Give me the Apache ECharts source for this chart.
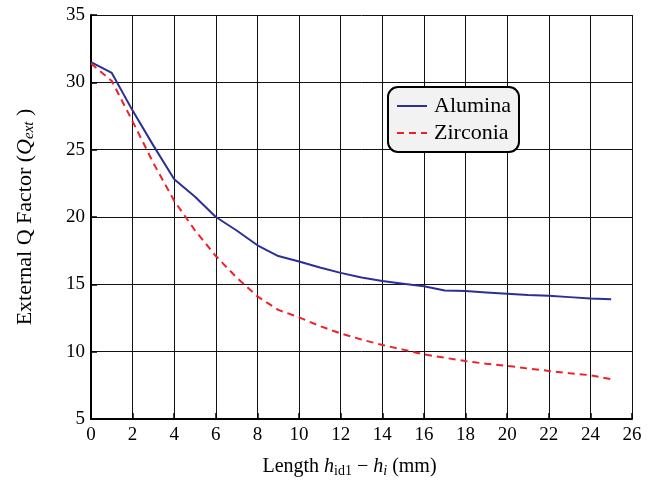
<!DOCTYPE html>
<html>
<head>
<meta charset="utf-8">
<script src="https://cdn.jsdelivr.net/npm/echarts@6/dist/echarts.min.js"></script>
<style>
  html, body { margin: 0; padding: 0; background: #fff; }
  #chart { width: 657px; height: 483px; }
</style>
</head>
<body>
<div id="chart"></div>
<script>
// lengths h_id1 - h_i (mm)
const lengths = [0, 1, 2, 3, 4, 5, 6, 7, 8, 9, 10, 11, 12, 13, 14, 15, 16, 17, 18, 19, 20, 21, 22, 23, 24, 25];
// external Q factor
const alumina = [31.5, 30.7, 27.9, 25.3, 22.8, 21.5, 20.0, 19.0, 17.9, 17.1, 16.7, 16.25, 15.85, 15.5, 15.25, 15.05, 14.85, 14.55, 14.5, 14.4, 14.3, 14.2, 14.15, 14.05, 13.95, 13.9];
const zirconia = [31.4, 30.1, 27.1, 24.0, 21.2, 19.0, 17.1, 15.5, 14.1, 13.1, 12.55, 11.9, 11.35, 10.9, 10.5, 10.15, 9.8, 9.55, 9.3, 9.1, 8.95, 8.75, 8.57, 8.4, 8.25, 7.95];

const font = "Liberation Serif";

const pairs = function(xs, ys) {
  return xs.map(function(x, i) { return [x, ys[i]]; });
};

let chart = echarts.init(document.getElementById("chart"));
chart.setOption({
  animation: false,
  textStyle: { fontFamily: font, color: "#000" },
  grid: { left: 91, right: 25, top: 15, bottom: 62 },
  legend: {
    left: 388,
    top: 87,
    orient: "vertical",
    backgroundColor: "#f2f2f2",
    borderColor: "#000",
    borderWidth: 2,
    borderRadius: 10,
    padding: [8, 8, 8, 8],
    itemGap: 5,
    itemWidth: 30,
    itemHeight: 14,
    itemStyle: { opacity: 0 },
    textStyle: { fontFamily: font, fontSize: 22, color: "#000", padding: [0, 0, 0, 2] },
    data: ["Alumina", "Zirconia"]
  },
  xAxis: {
    type: "value",
    min: 0,
    max: 26,
    interval: 2,
    name: "{n|Length }{i|h}{s|id1}{n| − }{i|h}{si|i}{n| (mm)}",
    nameLocation: "middle",
    nameGap: 37,
    nameTextStyle: {
      padding: [0, 24, 0, 0],
      rich: {
        n: { fontFamily: font, fontSize: 20, color: "#000" },
        i: { fontFamily: font, fontSize: 20, fontStyle: "italic", color: "#000" },
        s: { fontFamily: font, fontSize: 14, color: "#000", padding: [8, 0, 0, 0] },
        si: { fontFamily: font, fontSize: 14, fontStyle: "italic", color: "#000", padding: [8, 0, 0, 0] }
      }
    },
    axisLine: { lineStyle: { color: "#000", width: 2 } },
    axisTick: { inside: true, length: 6, lineStyle: { color: "#000", width: 1.5 } },
    axisLabel: { fontFamily: font, fontSize: 19, color: "#000", margin: 7 },
    splitLine: { show: true, lineStyle: { color: "#111", width: 1 } }
  },
  yAxis: {
    type: "value",
    min: 5,
    max: 35,
    interval: 5,
    name: "{n|External Q Factor (}{i|Q}{s|ext}{n| )}",
    nameLocation: "middle",
    nameGap: 54,
    nameTextStyle: {
      rich: {
        n: { fontFamily: font, fontSize: 22, color: "#000" },
        i: { fontFamily: font, fontSize: 22, fontStyle: "italic", color: "#000" },
        s: { fontFamily: font, fontSize: 15, fontStyle: "italic", color: "#000", padding: [8, 0, 0, 0] }
      }
    },
    axisLine: { lineStyle: { color: "#000", width: 2 } },
    axisTick: { inside: true, length: 6, lineStyle: { color: "#000", width: 1.5 } },
    axisLabel: { fontFamily: font, fontSize: 19, color: "#000", margin: 6 },
    splitLine: { show: true, lineStyle: { color: "#111", width: 1 } }
  },
  series: [
    {
      name: "Alumina",
      type: "line",
      data: pairs(lengths, alumina),
      symbol: "none",
      color: "#2b2f96",
      lineStyle: { color: "#2b2f96", width: 2 }
    },
    {
      name: "Zirconia",
      type: "line",
      data: pairs(lengths, zirconia),
      symbol: "none",
      color: "#f0202a",
      lineStyle: { color: "#f0202a", width: 2, type: [7, 5] }
    }
  ]
});
</script>
</body>
</html>
